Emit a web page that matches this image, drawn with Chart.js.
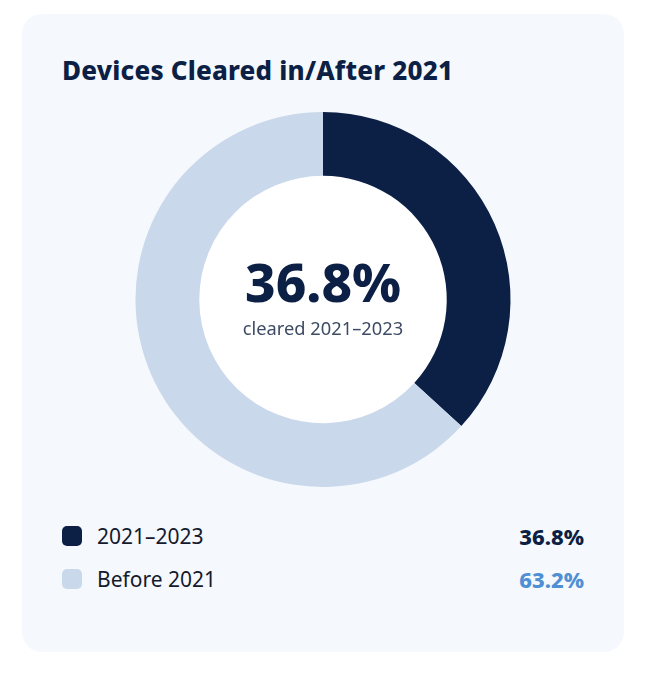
<!DOCTYPE html>
<html>
<head>
<meta charset="utf-8">
<script src="https://cdn.jsdelivr.net/npm/chart.js@4.4.0/dist/chart.umd.min.js"></script>
<style>
  html, body { margin: 0; padding: 0; background: #ffffff; }
  body { width: 649px; height: 673px; position: relative; font-family: "Noto Sans", "Open Sans", sans-serif; }
  .card {
    position: absolute; left: 22px; top: 14px; width: 602px; height: 638px;
    background: #f5f8fd; border-radius: 20px; box-sizing: border-box; padding: 0 40px;
  }
  .title {
    margin: 0; position: absolute; left: 40px; top: 40px;
    font-size: 26px; font-weight: 800; color: #0c1f45; line-height: 32px; letter-spacing: 0.2px;
  }
  .chart-wrap { position: absolute; left: 40px; top: 98px; width: 522px; height: 375px; }
  .center { position: absolute; left: 0; right: 0; top: 0; bottom: 0; display: flex; flex-direction: column;
    align-items: center; justify-content: center; pointer-events: none; }
  .center .big { font-size: 53px; font-weight: 800; color: #0c1f45; line-height: 60px; margin-top: -8px; }
  .center .small { font-size: 18.3px; color: #3d4b63; line-height: 24px; margin-top: 4px; }
  .legend { position: absolute; left: 40px; top: 500px; width: 522px; }
  .row { display: flex; align-items: center; height: 43px; }
  .swatch { width: 20px; height: 20px; border-radius: 5px; margin-right: 15px; }
  .label { font-size: 21px; color: #141a2e; flex: 1; }
  .value { font-size: 22px; font-weight: 800; }
</style>
</head>
<body>
<div class="card">
  <h2 class="title">Devices Cleared in/After 2021</h2>
  <div class="chart-wrap">
    <canvas id="donut"></canvas>
    <div class="center">
      <div class="big" id="bigPct"></div>
      <div class="small">cleared 2021–2023</div>
    </div>
  </div>
  <div class="legend" id="legend"></div>
</div>
<script>
// DADOS
const categories = ['2021–2023', 'Before 2021'];
const shares = [36.8, 63.2];
const sliceColors = ['#0c1f45', '#c9d8ea'];
const valueColors = ['#0c1f45', '#4f8fd4'];

// fundo branco no miolo do donut
const innerFill = {
  id: 'innerFill',
  beforeDatasetsDraw(chart) {
    const meta = chart.getDatasetMeta(0);
    const arc = meta.data[0];
    if (!arc) return;
    const { x, y, innerRadius } = arc.getProps(['x', 'y', 'innerRadius'], true);
    const ctx = chart.ctx;
    ctx.save();
    ctx.beginPath();
    ctx.arc(x, y, innerRadius, 0, Math.PI * 2);
    ctx.fillStyle = '#ffffff';
    ctx.fill();
    ctx.restore();
  }
};

new Chart(document.getElementById('donut'), {
  type: 'doughnut',
  data: {
    labels: categories,
    datasets: [{
      data: shares,
      backgroundColor: sliceColors,
      borderWidth: 0,
      hoverOffset: 0
    }]
  },
  options: {
    responsive: true,
    maintainAspectRatio: false,
    animation: false,
    cutout: '66%',
    plugins: { legend: { display: false }, tooltip: { enabled: false } }
  },
  plugins: [innerFill]
});

document.getElementById('bigPct').textContent = shares[0].toFixed(1) + '%';

// LEGENDA
const legend = document.getElementById('legend');
categories.forEach((cat, i) => {
  const row = document.createElement('div');
  row.className = 'row';
  row.innerHTML = `
    <span class="swatch" style="background:${sliceColors[i]}"></span>
    <span class="label">${cat}</span>
    <span class="value" style="color:${valueColors[i]}">${shares[i].toFixed(1)}%</span>`;
  legend.appendChild(row);
});
</script>
</body>
</html>
